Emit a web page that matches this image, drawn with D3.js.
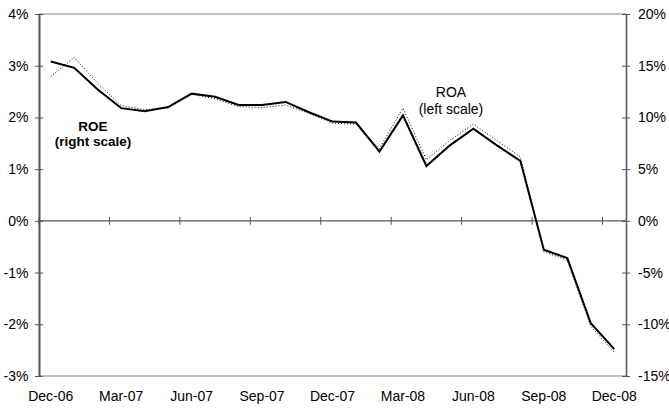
<!DOCTYPE html>
<html>
<head>
<meta charset="utf-8">
<script src="https://cdn.jsdelivr.net/npm/d3@7"></script>
<style>
  html, body { margin: 0; padding: 0; background: #fff; }
  svg { display: block; font-family: "Liberation Sans", Arial, sans-serif; }
</style>
</head>
<body>
<svg id="chart" width="669" height="409"></svg>
<script>
const months = ["Dec-06","Jan-07","Feb-07","Mar-07","Apr-07","May-07","Jun-07","Jul-07","Aug-07","Sep-07","Oct-07","Nov-07","Dec-07","Jan-08","Feb-08","Mar-08","Apr-08","May-08","Jun-08","Jul-08","Aug-08","Sep-08","Oct-08","Nov-08","Dec-08"];
// ROA, percent, left scale (dotted)
const roa = [2.79, 3.16, 2.66, 2.23, 2.15, 2.18, 2.45, 2.36, 2.21, 2.19, 2.24, 2.08, 1.89, 1.87, 1.40, 2.18, 1.18, 1.56, 1.87, 1.55, 1.24, -0.60, -0.76, -2.04, -2.54];
// ROE, percent, right scale (solid)
const roe = [15.4, 14.8, 12.7, 10.9, 10.6, 11.0, 12.3, 12.0, 11.2, 11.2, 11.5, 10.5, 9.6, 9.5, 6.7, 10.2, 5.3, 7.3, 8.9, 7.3, 5.8, -2.8, -3.6, -9.9, -12.4];
const leftTicks = [4, 3, 2, 1, 0, -1, -2, -3];
const rightTicks = [20, 15, 10, 5, 0, -5, -10, -15];
const xLabels = ["Dec-06","Mar-07","Jun-07","Sep-07","Dec-07","Mar-08","Jun-08","Sep-08","Dec-08"];

const L = 39, R = 626, T = 14, B = 376;
const FS = 14;
const svg = d3.select("#chart");

const x = d3.scaleBand().domain(months).range([L, R]).padding(0);
const yL = d3.scaleLinear().domain([-3, 4]).range([B, T]);
const yR = d3.scaleLinear().domain([-15, 20]).range([B, T]);
const cx = m => x(m) + x.bandwidth() / 2;

// plot frame: top and bottom borders
svg.append("line").attr("x1", L).attr("x2", R).attr("y1", T).attr("y2", T)
  .attr("stroke", "#808080").attr("stroke-width", 1);
svg.append("line").attr("x1", L).attr("x2", R).attr("y1", B).attr("y2", B)
  .attr("stroke", "#808080").attr("stroke-width", 1);

// zero line (category axis) with crossing ticks
const y0 = yL(0);
svg.append("line").attr("x1", L).attr("x2", R).attr("y1", y0).attr("y2", y0)
  .attr("stroke", "#555").attr("stroke-width", 1.3);
const tickCats = months.filter((m, i) => i % 3 === 0);
svg.selectAll(".xtick").data(tickCats).enter().append("line")
  .attr("x1", d => x(d)).attr("x2", d => x(d))
  .attr("y1", y0 - 4).attr("y2", y0 + 4)
  .attr("stroke", "#555").attr("stroke-width", 1);

// left axis
const gL = svg.append("g").attr("transform", `translate(${L},0)`)
  .call(d3.axisLeft(yL).tickValues(leftTicks).tickSizeInner(4).tickSizeOuter(0).tickPadding(6).tickFormat(d => d + "%"));
gL.select(".domain").attr("stroke", "#555").attr("stroke-width", 2);
gL.selectAll(".tick line").attr("stroke", "#555").attr("x1", -4).attr("x2", 4);
gL.selectAll(".tick text").attr("font-size", FS).attr("fill", "#000").attr("x", -10.5)
  .attr("font-family", "Liberation Sans, Arial, sans-serif");

// right axis
const gR = svg.append("g").attr("transform", `translate(${R},0)`)
  .call(d3.axisRight(yR).tickValues(rightTicks).tickSizeInner(4).tickSizeOuter(0).tickPadding(6).tickFormat(d => d + "%"));
gR.select(".domain").attr("stroke", "#555").attr("stroke-width", 1.5);
gR.selectAll(".tick line").attr("stroke", "#555").attr("x1", -4).attr("x2", 4);
gR.selectAll(".tick text").attr("font-size", FS).attr("fill", "#000").attr("x", 12)
  .attr("font-family", "Liberation Sans, Arial, sans-serif");

// bottom labels
const gB = svg.append("g").attr("transform", `translate(0,${B})`)
  .call(d3.axisBottom(x).tickValues(xLabels).tickSize(0).tickPadding(15));
gB.select(".domain").remove();
gB.selectAll(".tick text").attr("font-size", FS).attr("fill", "#000")
  .attr("font-family", "Liberation Sans, Arial, sans-serif");

// series
const lineROA = d3.line().x((d, i) => cx(months[i])).y(d => yL(d));
const lineROE = d3.line().x((d, i) => cx(months[i])).y(d => yR(d));

svg.append("path").datum(roa).attr("d", lineROA)
  .attr("fill", "none").attr("stroke", "#000").attr("stroke-width", 1)
  .attr("stroke-dasharray", "1,2");
svg.append("path").datum(roe).attr("d", lineROE)
  .attr("fill", "none").attr("stroke", "#000").attr("stroke-width", 2)
  .attr("stroke-linejoin", "miter");

// annotations
const ann = svg.append("g").attr("font-size", FS).attr("fill", "#000").attr("text-anchor", "middle");
ann.append("text").attr("x", 93).attr("y", 131).attr("font-weight", "bold").attr("font-size", 13.5).text("ROE");
ann.append("text").attr("x", 93).attr("y", 145.5).attr("font-weight", "bold").attr("font-size", 13.5).text("(right scale)");
ann.append("text").attr("x", 451).attr("y", 97.3).text("ROA");
ann.append("text").attr("x", 451).attr("y", 114).text("(left scale)");
</script>
</body>
</html>
